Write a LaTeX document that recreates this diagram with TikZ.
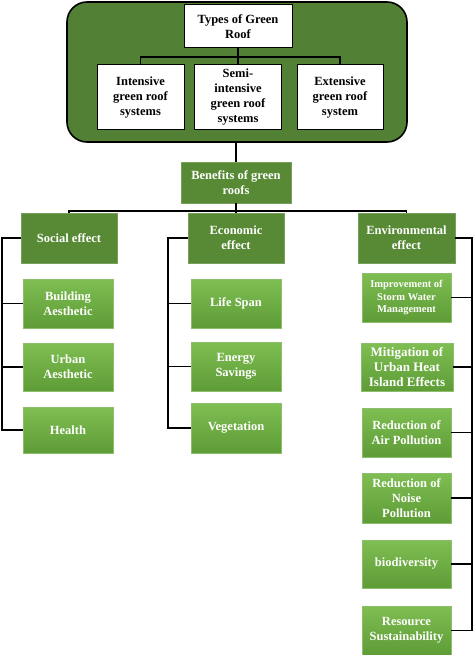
\documentclass[tikz,border=0pt]{standalone}
\usepackage{fontspec}
\setmainfont{Liberation Serif}
\definecolor{roofdark}{RGB}{82,128,52}
\definecolor{catgreen}{RGB}{88,138,54}
\definecolor{catborder}{RGB}{120,160,92}
\definecolor{leaftop}{RGB}{126,190,82}
\definecolor{leafbot}{RGB}{94,156,54}
\definecolor{leafborder}{RGB}{140,190,110}
\tikzset{
  outerbox/.style={draw=black, line width=1.6pt, fill=roofdark, rounded corners=20pt},
  whitebox/.style={draw=black, line width=1pt, fill=white, text=black, align=center, inner sep=0pt,
    font=\fontsize{12.5}{15}\selectfont\bfseries},
  catbox/.style={draw=catborder, line width=0.6pt, fill=catgreen, text=white, align=center, inner sep=0pt,
    font=\fontsize{12.5}{15}\selectfont\bfseries},
  leafbox/.style={draw=leafborder, line width=0.5pt, top color=leaftop, bottom color=leafbot, text=white,
    align=center, inner sep=0pt, font=\fontsize{12.5}{15}\selectfont\bfseries},
  conn/.style={draw=black, line width=1.1pt},
}
\begin{document}
\begin{tikzpicture}[x=1pt,y=-1pt]
\useasboundingbox (0,0) rectangle (474,655);
% outer rounded box
\node[outerbox, minimum width=340pt, minimum height=140pt, inner sep=0pt] (outer) at (237,72) {};
\node[whitebox, minimum width=108pt, minimum height=43pt] (types) at (238,26.5) {Types of Green\\Roof};
\node[whitebox, minimum width=87pt, minimum height=65pt] (intensive) at (140.5,97.5) {Intensive\\green roof\\systems};
\node[whitebox, minimum width=87pt, minimum height=65pt] (semi) at (238,97.5) {Semi-\\intensive\\green roof\\systems};
\node[whitebox, minimum width=86pt, minimum height=65pt] (extensive) at (340,97.5) {Extensive\\green roof\\system};
\coordinate (tbus) at (238,57);
\draw[conn] (types.south) -- (semi.north);
\draw[conn] (intensive.north) |- (tbus);
\draw[conn] (extensive.north) |- (tbus);
% benefits
\node[catbox, minimum width=110pt, minimum height=41pt] (benefits) at (236,182.5) {Benefits of green\\roofs};
\draw[conn] (benefits.north) -- (benefits.north |- outer.south);
\node[catbox, minimum width=96pt, minimum height=50pt] (social) at (69,238) {Social effect};
\node[catbox, minimum width=96pt, minimum height=50pt] (economic) at (236,238) {Economic\\effect};
\node[catbox, minimum width=97pt, minimum height=50pt] (environ) at (406.5,238) {Environmental\\effect};
\coordinate (bbus) at (236,211);
\draw[conn] (benefits.south) -- (economic.north);
\draw[conn] (social.north) |- (bbus);
\draw[conn] (environ.north) |- (bbus);
% social children
\node[leafbox, minimum width=90pt, minimum height=49pt] (building) at (68,303.5) {Building\\Aesthetic};
\node[leafbox, minimum width=90pt, minimum height=48pt] (urban) at (68,367) {Urban\\Aesthetic};
\node[leafbox, minimum width=90pt, minimum height=46pt] (health) at (68,430) {Health};
\coordinate (strunk) at (2,0);
\draw[conn] (social.west) -| (strunk |- health.west) -- (health.west);
\draw[conn] (building.west) -- (strunk |- building.west);
\draw[conn] (urban.west) -- (strunk |- urban.west);
% economic children
\node[leafbox, minimum width=90pt, minimum height=49pt] (life) at (236,303.5) {Life Span};
\node[leafbox, minimum width=90pt, minimum height=49pt] (energy) at (236,366.5) {Energy\\Savings};
\node[leafbox, minimum width=90pt, minimum height=50pt] (veg) at (236,428) {Vegetation};
\coordinate (etrunk) at (168,0);
\draw[conn] (economic.west) -| (etrunk |- veg.west) -- (veg.west);
\draw[conn] (life.west) -- (etrunk |- life.west);
\draw[conn] (energy.west) -- (etrunk |- energy.west);
% environmental children
\node[leafbox, minimum width=89pt, minimum height=49pt, font=\fontsize{10.5}{12.8}\selectfont\bfseries] (storm) at (406.5,297.5) {Improvement of\\Storm Water\\Management};
\node[leafbox, minimum width=92pt, minimum height=48pt, font=\fontsize{13}{15}\selectfont\bfseries] (heat) at (407,367) {Mitigation of\\Urban Heat\\Island Effects};
\node[leafbox, minimum width=89pt, minimum height=49pt] (air) at (406.5,432.5) {Reduction of\\Air Pollution};
\node[leafbox, minimum width=89pt, minimum height=50pt] (noise) at (406.5,498) {Reduction of\\Noise\\Pollution};
\node[leafbox, minimum width=89pt, minimum height=48pt] (bio) at (406.5,564) {biodiversity};
\node[leafbox, minimum width=89pt, minimum height=49pt] (resource) at (406.5,630.5) {Resource\\Sustainability};
\coordinate (vtrunk) at (472,0);
\draw[conn] (environ.east) -| (vtrunk |- resource.east) -- (resource.east);
\draw[conn] (storm.east) -- (vtrunk |- storm.east);
\draw[conn] (heat.east) -- (vtrunk |- heat.east);
\draw[conn] (air.east) -- (vtrunk |- air.east);
\draw[conn] (noise.east) -- (vtrunk |- noise.east);
\draw[conn] (bio.east) -- (vtrunk |- bio.east);
\end{tikzpicture}
\end{document}
